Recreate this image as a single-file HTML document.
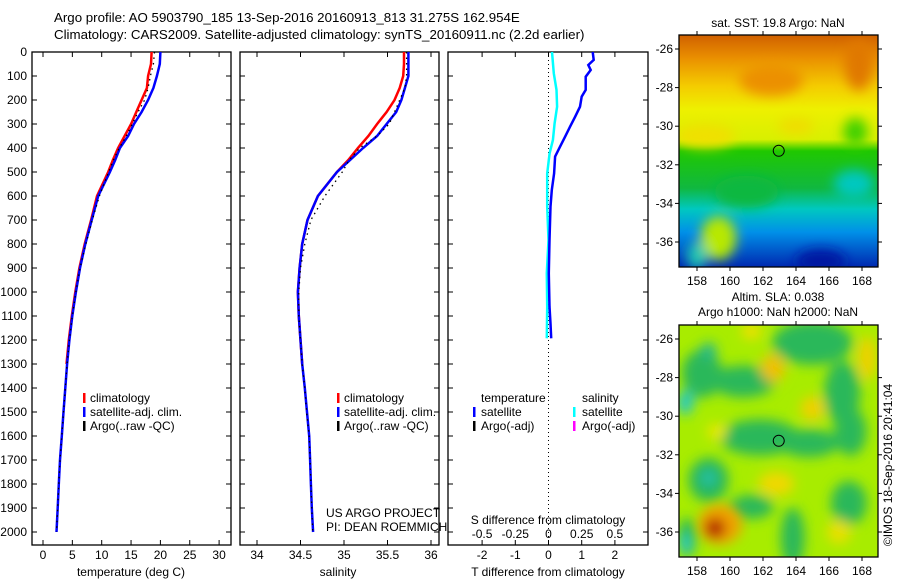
<!DOCTYPE html>
<html><head><meta charset="utf-8">
<style>
html,body{margin:0;padding:0;background:#fff;}
svg{display:block;font-family:"Liberation Sans",sans-serif;}
text{font-size:12px;fill:#000;}
</style></head>
<body>
<svg id="chart" width="900" height="580" viewBox="0 0 900 580" xmlns="http://www.w3.org/2000/svg">
<defs>
<filter id="blur1" x="-20%" y="-20%" width="140%" height="140%"><feGaussianBlur stdDeviation="6"/></filter>
<filter id="blur2" x="-20%" y="-20%" width="140%" height="140%"><feGaussianBlur stdDeviation="6"/></filter>
<clipPath id="clipM1"><rect x="679" y="35" width="199" height="232"/></clipPath>
<clipPath id="clipM2"><rect x="679" y="325" width="199" height="232"/></clipPath>
<linearGradient id="sstGrad" x1="0" y1="0" x2="0" y2="1">
<stop offset="0" stop-color="#d06000"/>
<stop offset="0.1" stop-color="#ea9000"/>
<stop offset="0.22" stop-color="#f4cc00"/>
<stop offset="0.32" stop-color="#eef000"/>
<stop offset="0.45" stop-color="#d8f000"/>
<stop offset="0.5" stop-color="#20c800"/>
<stop offset="0.66" stop-color="#10b840"/>
<stop offset="0.75" stop-color="#00c8c0"/>
<stop offset="0.85" stop-color="#0090e8"/>
<stop offset="1" stop-color="#0028b0"/>
</linearGradient>
</defs>
<text x="54" y="22" style="font-size:13.3px">Argo profile: AO 5903790_185 13-Sep-2016 20160913_813 31.275S 162.954E</text>
<text x="54" y="39" style="font-size:13.3px">Climatology: CARS2009. Satellite-adjusted climatology: synTS_20160911.nc (2.2d earlier)</text>
<g id="plots"></g>
<g id="maps"></g>
</svg>
<script>
// ---- profile data ----
const depths = [0,50,100,150,200,250,300,350,400,450,500,600,700,800,900,1000,1100,1200,1300,1400,1500,1600,1700,1800,1900,2000];
const tempSat = [20.0,19.9,19.4,18.8,17.9,16.8,15.5,14.5,13.1,12.3,11.4,9.4,8.3,7.2,6.3,5.6,5.0,4.5,4.1,3.8,3.5,3.2,2.9,2.7,2.5,2.3];
const tempClim = [18.5,18.4,17.9,17.7,16.8,15.9,15.0,13.9,12.8,11.9,11.1,9.2,8.2,7.1,6.2,5.5,4.9,4.4,4.0];
const tempArgo = [19.0,18.8,18.3,17.9,17.3,16.2,15.2,14.2,13.0,12.0,11.2,9.6,8.4,7.3,6.3,5.6,5.0,4.5,4.1,3.8,3.5,3.2,2.9,2.7,2.5,2.3];
const salSat = [35.74,35.74,35.74,35.70,35.66,35.60,35.49,35.38,35.22,35.07,34.92,34.70,34.58,34.52,34.49,34.47,34.48,34.50,34.52,34.55,34.575,34.60,34.61,34.62,34.63,34.645];
const salClim = [35.69,35.69,35.68,35.64,35.58,35.49,35.38,35.28,35.16,35.05,34.92,34.70,34.58,34.52,34.49,34.47,34.48,34.50,34.52];
const salArgo = [35.72,35.72,35.72,35.70,35.64,35.58,35.52,35.38,35.18,35.06,34.98,34.78,34.62,34.55,34.50,34.48,34.48,34.50,34.52,34.55,34.57,34.60,34.61,34.62,34.63,34.64];
const tDiffDepths = [0,33,54,75,103,158,186,228,270,311,353,394,436,506,575,644,783,922,1061,1131,1193];
const tDiff = [1.33,1.36,1.20,1.27,1.12,1.12,1.0,0.95,0.80,0.65,0.50,0.35,0.20,0.17,0.10,0.06,0.03,0.01,0.03,0.06,0.08];
const sDiffDepths = [0,89,158,228,297,367,422,506,644,783,922,1061,1193];
const sDiff = [0.026,0.04,0.06,0.065,0.046,0.033,0.008,-0.01,-0.01,0,-0.013,-0.01,-0.013];
const depthTicks = [0,100,200,300,400,500,600,700,800,900,1000,1100,1200,1300,1400,1500,1600,1700,1800,1900,2000];
const tempTicks = [0,5,10,15,20,25,30];
const salTicks = [34,34.5,35,35.5,36];
const tdTicks = [-2,-1,0,1,2];
const sdTicks = [-0.5,-0.25,0,0.25,0.5];
const sdTickLabels = ["-0.5","-0.25","0","0.25","0.5"];
const lonTicks = [158,160,162,164,166,168];
const latTicks = [-26,-28,-30,-32,-34,-36];

const NS='http://www.w3.org/2000/svg';
function mk(tag, attrs, parent){const e=document.createElementNS(NS,tag);for(const k in attrs)e.setAttribute(k,attrs[k]);parent.appendChild(e);return e;}
const plots=document.getElementById('plots');
const yD = d => 52 + d*0.24;
const xT = v => 43 + v*5.87;
const xS = v => 257 + (v-34)*87;
const xTD = v => 548.5 + v*33.2;
const xSD = v => 548.5 + v*132.8;
const TOP=52, BOT=545;

function panel(name,x0,x1){
  const r=mk('rect',{x:x0,y:TOP,width:x1-x0,height:BOT-TOP,fill:'none',stroke:'#000','stroke-width':1.3},plots);
  
  
  depthTicks.forEach(d=>{
    mk('line',{x1:x0,x2:x0+5,y1:yD(d),y2:yD(d),stroke:'#000'},plots);
    mk('line',{x1:x1-5,x2:x1,y1:yD(d),y2:yD(d),stroke:'#000'},plots);
  });
}
function xticks(ticks,labels,fx,y,labelY){
  ticks.forEach((v,i)=>{
    mk('line',{x1:fx(v),x2:fx(v),y1:TOP,y2:TOP+5,stroke:'#000'},plots);
    mk('line',{x1:fx(v),x2:fx(v),y1:BOT-5,y2:BOT,stroke:'#000'},plots);
    const t=mk('text',{x:fx(v),y:labelY,'text-anchor':'middle'},plots);
    t.textContent=labels[i];
    
    
  });
}
function line(xs,ds,fx,color,w,name,dash){
  const pts=xs.map((v,i)=>fx(v).toFixed(1)+','+yD(ds[i]).toFixed(1)).join(' ');
  const p=mk('polyline',{points:pts,fill:'none',stroke:color,'stroke-width':w},plots);
  if(dash)p.setAttribute('stroke-dasharray',dash);
  
  
}
function txt(s,x,y,name,anchor){
  const t=mk('text',{x:x,y:y},plots);
  if(anchor)t.setAttribute('text-anchor',anchor);
  t.textContent=s;
  
  
  return t;
}
function bar(x,y,color){mk('rect',{x:x,y:y-10,width:2.5,height:10,fill:color},plots);}

panel('temperature-panel',32,231);
panel('salinity-panel',240,439);
panel('difference-panel',448,648);
depthTicks.forEach(d=>{
  const t=txt(String(d),27,yD(d)+4,'y-tick-label','end');
});
xticks(tempTicks,tempTicks.map(String),xT,BOT,559);
xticks(salTicks,salTicks.map(String),xS,BOT,559);
xticks(tdTicks,tdTicks.map(String),xTD,BOT,559);
sdTicks.forEach((v,i)=>{ txt(sdTickLabels[i],xSD(v),538,'s-diff-tick-label','middle'); });
txt('temperature (deg C)',131,576,'x-axis-title-temperature','middle');
txt('salinity',338,576,'x-axis-title-salinity','middle');
txt('T difference from climatology',548,576,'x-axis-title-t-diff','middle');
txt('S difference from climatology',548,524,'x-axis-title-s-diff','middle');

// temperature panel
line(tempClim,depths.slice(0,tempClim.length),xT,'#ff0000',2.5,'temp-climatology-line');
line(tempSat,depths,xT,'#0000ff',2.5,'temp-satellite-line');
line(tempArgo,depths,xT,'#000',1.3,'temp-argo-line','1.5 4');
// salinity panel
line(salClim,depths.slice(0,salClim.length),xS,'#ff0000',2.5,'sal-climatology-line');
line(salSat,depths,xS,'#0000ff',2.5,'sal-satellite-line');
line(salArgo,depths,xS,'#000',1.3,'sal-argo-line','1.5 4');
// difference panel
mk('line',{x1:xTD(0),x2:xTD(0),y1:TOP,y2:BOT,stroke:'#000','stroke-dasharray':'1 3'},plots);
line(sDiff,sDiffDepths,xSD,'#00ffff',2.5,'sal-diff-satellite-line');
line(tDiff,tDiffDepths,xTD,'#0000ff',2.5,'temp-diff-satellite-line');

// legends
[['climatology','#ff0000'],['satellite-adj. clim.','#0000ff'],['Argo(..raw -QC)','#000']].forEach((e,i)=>{
  bar(83,403+i*14,e[1]); txt(e[0],90,402+i*14,'legend-entry-temp');
  bar(337,403+i*14,e[1]); txt(e[0],344,402+i*14,'legend-entry-sal');
});
txt('temperature',481,402,'legend-title-temperature');
txt('salinity',582,402,'legend-title-salinity');
bar(473,417,'#0000ff'); txt('satellite',481,416,'legend-entry-t-satellite');
bar(473,431,'#000'); txt('Argo(-adj)',481,430,'legend-entry-t-argo');
bar(573,417,'#00ffff'); txt('satellite',582,416,'legend-entry-s-satellite');
bar(573,431,'#ff00ff'); txt('Argo(-adj)',582,430,'legend-entry-s-argo');
txt('US ARGO PROJECT',326,517,'credit-project');
txt('PI: DEAN ROEMMICH',326,531,'credit-pi');

// ---- maps ----
const maps=document.getElementById('maps');
const lonX = lo => 680.5 + (lo-157)*16.5;
function mapFrame(name,top,latY){
  const r=mk('rect',{x:679,y:top,width:199,height:232,fill:'none',stroke:'#000','stroke-width':1.3},maps);
  
  
  lonTicks.forEach(lo=>{
    mk('line',{x1:lonX(lo),x2:lonX(lo),y1:top,y2:top-4,stroke:'#000'},maps);
    mk('line',{x1:lonX(lo),x2:lonX(lo),y1:top+232,y2:top+236,stroke:'#000'},maps);
    const t=mk('text',{x:lonX(lo),y:top+250,'text-anchor':'middle'},maps);
    t.textContent=String(lo);
    
    
  });
  latTicks.forEach(la=>{
    mk('line',{x1:675,x2:679,y1:latY(la),y2:latY(la),stroke:'#000'},maps);
    mk('line',{x1:878,x2:882,y1:latY(la),y2:latY(la),stroke:'#000'},maps);
    const t=mk('text',{x:673,y:latY(la)+4,'text-anchor':'end'},maps);
    t.textContent=String(la);
    
    
  });
  const c=mk('circle',{cx:lonX(162.954),cy:latY(-31.275),r:5.5,fill:'none',stroke:'#000','stroke-width':1},maps);
  
  
}
const lat1 = la => 49 + (-26-la)*19.3;
const lat2 = la => 339 + (-26-la)*19.3;
// SST map
let g1=mk('g',{'clip-path':'url(#clipM1)'},maps);


mk('rect',{x:679,y:35,width:199,height:232,fill:'url(#sstGrad)'},g1);
let b1=mk('g',{filter:'url(#blur1)'},g1);
[[lonX(162.5),lat1(-27.6),32,16,'#ec9000'],[lonX(167.8),lat1(-26.8),14,26,'#e07800'],[lonX(158.5),lat1(-30.5),30,12,'#f0e000'],
 [lonX(164),lat1(-30),18,8,'#f0dc00'],[lonX(167.6),lat1(-30.3),12,14,'#40d000'],
 [lonX(159.3),lat1(-35.8),18,22,'#b8e800'],[lonX(158),lat1(-36.7),10,14,'#20c8b0'],[lonX(161),lat1(-33.4),32,16,'#10b840'],
 [lonX(167.5),lat1(-33),20,14,'#00c8c0'],[lonX(165.5),lat1(-37),25,12,'#0018a0']].forEach(e=>{
  mk('ellipse',{cx:e[0],cy:e[1],rx:e[2],ry:e[3],fill:e[4]},b1);
});
mapFrame('sst-map-frame',35,lat1);
mk('text',{x:778,y:27,'text-anchor':'middle'},maps).textContent='sat. SST: 19.8 Argo: NaN';
// SLA map
let g2=mk('g',{'clip-path':'url(#clipM2)'},maps);


mk('rect',{x:679,y:325,width:199,height:232,fill:'#a8ec00'},g2);
let b2=mk('g',{filter:'url(#blur2)'},g2);
// green (negative) features
[[lonX(158.3),lat2(-27.8),20,24],[lonX(160.8),lat2(-28.2),32,16],[lonX(165),lat2(-26.2),40,22],[lonX(166.8),lat2(-28.8),18,32],
 [lonX(161.8),lat2(-31.1),40,18],[lonX(164.8),lat2(-31.4),30,14],[lonX(167.3),lat2(-30.8),16,24],
 [lonX(158.7),lat2(-33.3),20,22],[lonX(161.3),lat2(-34.7),22,12],[lonX(167.2),lat2(-34.5),18,22],[lonX(163.8),lat2(-36.3),12,30],
 [lonX(157.4),lat2(-36.3),9,20]].forEach(e=>{
  mk('ellipse',{cx:e[0],cy:e[1],rx:e[2],ry:e[3],fill:'#2ab85a'},b2);
});
[[lonX(157.3),lat2(-29.3),8,12,'#20c8c8'],[lonX(158.7),lat2(-33.2),8,8,'#20c0a8'],[lonX(157.3),lat2(-36.6),6,10,'#20c8c8'],
 [lonX(158.7),lat2(-26.6),8,8,'#20b890'],
 [lonX(162.6),lat2(-27.5),12,14,'#f0c000'],[lonX(165),lat2(-29.6),12,12,'#f0d000'],[lonX(168.3),lat2(-27),9,22,'#f0d000'],
 [lonX(162.8),lat2(-33.5),18,12,'#f0d800'],[lonX(166.6),lat2(-36),12,12,'#e8e000'],[lonX(159.2),lat2(-30.8),10,8,'#e8e800'],
 [lonX(161.3),lat2(-25.6),10,8,'#f0e000']].forEach(e=>{
  mk('ellipse',{cx:e[0],cy:e[1],rx:e[2],ry:e[3],fill:e[4]},b2);
});
let b3=mk('g',{filter:'url(#blur1)'},g2);
mk('ellipse',{cx:lonX(159.4),cy:lat2(-35.6),rx:22,ry:20,fill:'#f0a000'},b3);
mk('ellipse',{cx:lonX(159.1),cy:lat2(-35.8),rx:10,ry:10,fill:'#b01000'},b3);
mapFrame('sla-map-frame',325,lat2);
mk('text',{x:778,y:301,'text-anchor':'middle'},maps).textContent='Altim. SLA: 0.038';
mk('text',{x:778,y:316,'text-anchor':'middle'},maps).textContent='Argo h1000: NaN h2000: NaN';
const rt=mk('text',{x:892,y:465,'text-anchor':'middle',transform:'rotate(-90 892 465)'},maps);
rt.textContent='©IMOS 18-Sep-2016 20:41:04';


</script>
</body></html>
